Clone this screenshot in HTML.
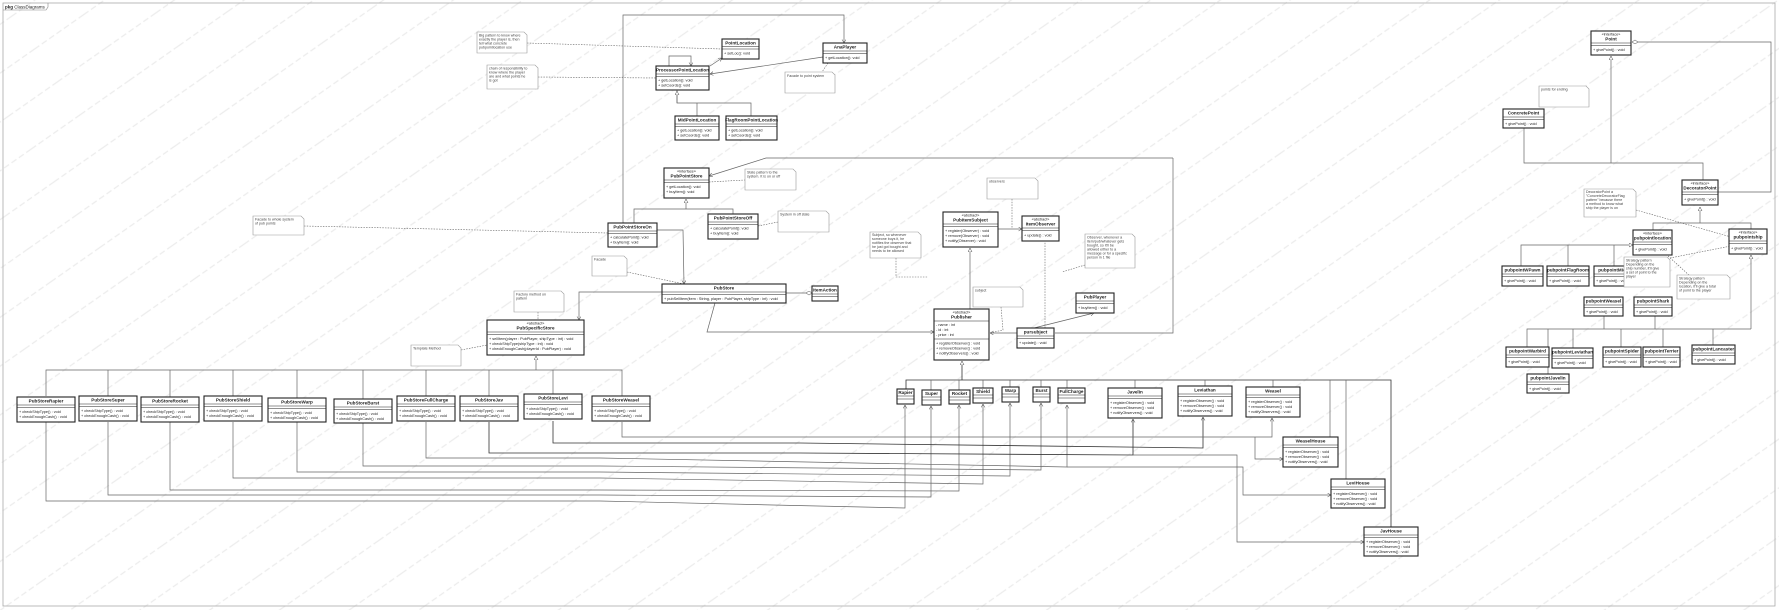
<!DOCTYPE html>
<html><head><meta charset="utf-8"><style>
html,body{margin:0;padding:0;background:#fff;}
svg{display:block;}
text{font-family:"Liberation Sans",sans-serif;fill:#222;}
.n{font-size:4.6px;font-weight:bold;text-anchor:middle;}
.s{font-size:3.8px;text-anchor:middle;}
.m{font-size:3.8px;}
.t{font-size:3.6px;fill:#444;}
.bx{fill:#fff;stroke:#222;stroke-width:1.1;}
.sep{stroke:#222;stroke-width:0.6;}
.ln{fill:none;stroke:#666;stroke-width:0.7;}
.dk{fill:none;stroke:#333;stroke-width:0.8;}
.ds{fill:none;stroke:#666;stroke-width:0.6;stroke-dasharray:1.5,1.2;}
.nt{fill:#fff;stroke:#999;stroke-width:0.6;}
</style></head><body>
<svg width="1779" height="610" viewBox="0 0 1779 610" xmlns="http://www.w3.org/2000/svg">
<defs>
<marker id="tri" markerWidth="5" markerHeight="5" refX="4" refY="2" orient="auto" markerUnits="userSpaceOnUse"><path d="M0,0 L4,2 L0,4 Z" fill="#fff" stroke="#444" stroke-width="0.5"/></marker>
<marker id="ar" markerWidth="5" markerHeight="5" refX="3.5" refY="2" orient="auto" markerUnits="userSpaceOnUse"><path d="M0,0 L3.5,2 L0,4" fill="none" stroke="#444" stroke-width="0.5"/></marker>
<marker id="dia" markerWidth="7" markerHeight="5" refX="6" refY="2" orient="auto" markerUnits="userSpaceOnUse"><path d="M0,2 L3,0 L6,2 L3,4 Z" fill="#fff" stroke="#444" stroke-width="0.5"/></marker>
<pattern id="wm" width="60" height="40" patternUnits="userSpaceOnUse" patternTransform="rotate(-35)">
<line x1="0" y1="20" x2="60" y2="20" stroke="#ececec" stroke-width="1.2" stroke-dasharray="6,3"/>
</pattern>
</defs>
<rect x="0" y="0" width="1779" height="610" fill="url(#wm)"/>
<!-- frame -->
<rect x="3" y="3" width="1772" height="603" fill="none" stroke="#aaa" stroke-width="0.8"/>
<path d="M3,10 L46,10 L48,7 L48,3" fill="none" stroke="#888" stroke-width="0.6"/>
<text x="5" y="8.5" style="font-size:4.5px"><tspan font-weight="bold">pkg</tspan> ClassDiagrams</text>

<!-- ============ CONNECTORS ============ -->
<path class="ln" d="M623,223 L623,15 L844,15 L844,43" marker-end="url(#ar)"/>
<path class="ln" d="M677,90 L677,103 L751,103 L751,116"/>
<path class="ln" d="M697,103 L697,116"/>
<path class="ln" d="M677,103 L677,91" marker-end="url(#tri)"/>
<path class="ln" d="M669,66 L669,56 L691,56 L691,66" marker-end="url(#ar)"/>
<path class="ln" d="M710,66 L722,58" marker-end="url(#ar)"/>
<path class="ln" d="M823,57 L710,74" marker-end="url(#ar)"/>
<path class="ds" d="M527,43 L722,49"/>
<path class="ds" d="M538,77 L656,78"/>
<path class="ds" d="M828,63 L822,72"/>
<path class="ln" d="M1173,158 L766,158 L709,176" marker-end="url(#ar)"/>
<path class="ln" d="M1173,158 L1173,333 L1055,333"/>
<path class="ln" d="M1017,333 L990,333" marker-end="url(#ar)"/>
<path class="ln" d="M634,223 L634,209 L733,209 L733,214"/>
<path class="ln" d="M686,209 L686,199" marker-end="url(#tri)"/>
<path class="ds" d="M709,182 L745,180"/>
<path class="ds" d="M758,226 L778,222"/>
<path class="ds" d="M304,226 L608,233"/>
<path class="ln" d="M657,230 L683,230 L684,284" marker-end="url(#ar)"/>
<path class="ds" d="M627,272 L684,284"/>
<path class="ln" d="M786,293 L812,293" marker-end="url(#dia)"/>
<path class="ln" d="M662,292 L579,292 L579,320" marker-end="url(#ar)"/>
<path class="ln" d="M715,303 L707,332 L934,332" marker-end="url(#ar)"/>
<path class="ds" d="M538,312 L538,320"/>
<path class="ds" d="M461,350 L487,345"/>
<path class="ln" d="M46,396 L46,370 L622,370 L622,397"/>
<path class="ln" d="M108,370 L108,397 M170,370 L170,397 M233,370 L233,397 M297,370 L297,398 M363,370 L363,399 M426,370 L426,397 M489,370 L489,397 M553,370 L553,396"/>
<path class="ln" d="M536,370 L536,356" marker-end="url(#tri)"/>
<path class="ln" d="M46,422 L46,501 L600,501 L905,508 L905,405" marker-end="url(#ar)"/>
<path class="ln" d="M108,422 L108,495 L600,495 L931,497 L931,406" marker-end="url(#ar)"/>
<path class="ln" d="M170,422 L170,490 L600,490 L959,491 L959,405" marker-end="url(#ar)"/>
<path class="ln" d="M233,422 L233,478 L600,478 L983,484 L983,404" marker-end="url(#ar)"/>
<path class="ln" d="M297,422 L297,472 L600,472 L1010,476 L1010,403" marker-end="url(#ar)"/>
<path class="ln" d="M363,423 L363,466 L600,466 L1041,470 L1041,403" marker-end="url(#ar)"/>
<path class="ln" d="M426,422 L426,458 L600,458 L1067,467 L1067,405" marker-end="url(#ar)"/>
<path class="dk" d="M489,422 L489,453 L800,453 L1133,455 L1133,419" marker-end="url(#ar)"/>
<path class="dk" d="M553,421 L553,443 L800,443 L1203,448 L1203,417" marker-end="url(#ar)"/>
<path class="ln" d="M622,422 L622,437 L1272,437 L1272,418" marker-end="url(#ar)"/>
<path class="ln" d="M1255,437 L1255,459 L1283,459" marker-end="url(#ar)"/>
<path class="ln" d="M1133,455 L1237,455 L1237,542 L1364,542" marker-end="url(#ar)"/>
<path class="ln" d="M1067,467 L1243,467 L1243,495 L1331,495" marker-end="url(#ar)"/>
<path class="dk" d="M906,389 L906,380 L1391,380 L1391,527"/>
<path class="ln" d="M931,380 L931,390 M959,380 L959,390 M983,380 L983,388 M1010,380 L1010,387 M1041,380 L1041,387 M1067,380 L1067,388 M1135,380 L1135,388 M1205,380 L1205,386 M1273,380 L1273,387 M1330,380 L1330,437 M1346,380 L1346,479"/>
<path class="dk" d="M962,380 L962,361" marker-end="url(#tri)"/>
<path class="ln" d="M970,309 L970,248" marker-end="url(#tri)"/>
<path class="ln" d="M998,229 L1022,229" marker-end="url(#ar)"/>
<path class="ds" d="M1012,199 L1012,228"/>
<path class="ds" d="M1045,328 L1045,242"/>
<path class="ds" d="M1001,307 L1003,330 L990,333"/>
<path class="ds" d="M896,258 L896,277 L928,277"/>
<path class="ln" d="M1034,328 L1094,313" marker-end="url(#ar)"/>
<path class="ds" d="M1085,265 L1062,272"/>
<path class="ln" d="M1524,128 L1524,163 L1703,163 L1703,180"/>
<path class="ln" d="M1611,163 L1611,56" marker-end="url(#tri)"/>
<path class="ln" d="M1718,192 L1771,192 L1771,42 L1632,42" marker-end="url(#dia)"/>
<path class="ln" d="M1653,230 L1653,223 L1751,223 L1751,229"/>
<path class="ln" d="M1700,223 L1700,207" marker-end="url(#tri)"/>
<path class="ds" d="M1636,210 L1731,237"/>
<path class="ln" d="M1521,266 L1521,245 L1633,245" marker-end="url(#tri)"/>
<path class="ln" d="M1568,245 L1568,266 M1614,245 L1614,266"/>
<path class="ds" d="M1670,258 L1731,246"/>
<path class="ds" d="M1668,256 L1690,276"/>
<path class="ln" d="M1527,347 L1527,329 L1751,329"/>
<path class="ln" d="M1751,329 L1751,255" marker-end="url(#tri)"/>
<path class="ln" d="M1548,329 L1548,374 M1573,329 L1573,348 M1621,329 L1621,347 M1663,329 L1663,347 M1713,329 L1713,345 M1604,316 L1604,329 M1655,316 L1655,329"/>

<!-- ============ NOTES ============ -->
<g>
<path class="nt" d="M477,32 L524,32 L527,35 L527,53 L477,53 Z"/>
<text class="t" x="479" y="36.5">Big pattern to know where</text><text class="t" x="479" y="40.5">exactly the player is, then</text><text class="t" x="479" y="44.5">tell what concrete</text><text class="t" x="479" y="48.5">pubpointlocation use</text>
<path class="nt" d="M487,65 L535,65 L538,68 L538,89 L487,89 Z"/>
<text class="t" x="489" y="69.5">chain of responsibility to</text><text class="t" x="489" y="73.5">know where the player</text><text class="t" x="489" y="77.5">are and what points he</text><text class="t" x="489" y="81.5">is got</text>
<path class="nt" d="M785,72 L832,72 L835,75 L835,93 L785,93 Z"/>
<text class="t" x="787" y="77">Facade to point system</text>
<path class="nt" d="M745,169 L793,169 L796,172 L796,190 L745,190 Z"/>
<text class="t" x="747" y="173.5">State pattern to the</text><text class="t" x="747" y="177.5">system. It is on or off</text>
<path class="nt" d="M778,211 L826,211 L829,214 L829,232 L778,232 Z"/>
<text class="t" x="780" y="215.5">System in off state</text>
<path class="nt" d="M253,216 L301,216 L304,219 L304,235 L253,235 Z"/>
<text class="t" x="255" y="220.5">Facade to whole system</text><text class="t" x="255" y="224.5">of pub points</text>
<path class="nt" d="M592,256 L624,256 L627,259 L627,276 L592,276 Z"/>
<text class="t" x="594" y="260.5">Facade</text>
<path class="nt" d="M514,291 L561,291 L564,294 L564,312 L514,312 Z"/>
<text class="t" x="516" y="295.5">Factory method on</text><text class="t" x="516" y="299.5">pattern</text>
<path class="nt" d="M411,345 L458,345 L461,348 L461,366 L411,366 Z"/>
<text class="t" x="413" y="349.5">Template Method</text>
<path class="nt" d="M987,178 L1035,178 L1038,181 L1038,199 L987,199 Z"/>
<text class="t" x="989" y="182.5">observers</text>
<path class="nt" d="M870,232 L918,232 L921,235 L921,258 L870,258 Z"/>
<text class="t" x="872" y="236">Subject, so whenever</text><text class="t" x="872" y="240">someone buys it, he</text><text class="t" x="872" y="244">notifies the observer that</text><text class="t" x="872" y="248">he just got bought and</text><text class="t" x="872" y="252">needs to be allowed</text>
<path class="nt" d="M1085,234 L1132,234 L1135,237 L1135,268 L1085,268 Z"/>
<text class="t" x="1087" y="238.5">Observer, whenever a</text><text class="t" x="1087" y="242.5">item/pub/whatever gets</text><text class="t" x="1087" y="246.5">bought, so it'll be</text><text class="t" x="1087" y="250.5">allowed either to a</text><text class="t" x="1087" y="254.5">message or for a specific</text><text class="t" x="1087" y="258.5">person in 1 file</text>
<path class="nt" d="M973,287 L1020,287 L1023,290 L1023,307 L973,307 Z"/>
<text class="t" x="975" y="291.5">subject</text>
<path class="nt" d="M1539,86 L1586,86 L1589,89 L1589,107 L1539,107 Z"/>
<text class="t" x="1541" y="90.5">points for ending</text>
<path class="nt" d="M1584,189 L1633,189 L1636,192 L1636,217 L1584,217 Z"/>
<text class="t" x="1586" y="193">DecoratorPoint a</text><text class="t" x="1586" y="197">"ConcreteDecoratorFlag</text><text class="t" x="1586" y="201">pattern" because there</text><text class="t" x="1586" y="205">a method to know what</text><text class="t" x="1586" y="209">ship the player is on</text>
<path class="nt" d="M1677,275 L1727,275 L1730,278 L1730,299 L1677,299 Z"/>
<text class="t" x="1679" y="279.5">Strategy pattern</text><text class="t" x="1679" y="283.5">Depending on the</text><text class="t" x="1679" y="287.5">location, it'll give a total</text><text class="t" x="1679" y="291.5">of point to the player</text>
</g>

<!-- ============ CLASS BOXES ============ -->
<g>
<rect class="bx" x="722" y="39" width="37" height="20"/><text class="n" x="740.5" y="44.5">PointLocation</text><line class="sep" x1="722" y1="46.5" x2="759" y2="46.5"/><line class="sep" x1="722" y1="49" x2="759" y2="49"/><text class="m" x="724" y="54.5">+ setLoc(): void</text>
<rect class="bx" x="823" y="43" width="44" height="20"/><text class="n" x="845" y="48.5">AnaPlayer</text><line class="sep" x1="823" y1="51" x2="867" y2="51"/><line class="sep" x1="823" y1="53.5" x2="867" y2="53.5"/><text class="m" x="825" y="59">+ getLocation(): void</text>
<rect class="bx" x="656" y="66" width="53" height="24" stroke-width="1.5"/><text class="n" x="682.5" y="71.5">ProcessorPointLocation</text><line class="sep" x1="656" y1="74" x2="709" y2="74"/><line class="sep" x1="656" y1="76.5" x2="709" y2="76.5"/><text class="m" x="658" y="81.5">+ getLocation(): void</text><text class="m" x="658" y="86.5">+ setCoords(): void</text>
<rect class="bx" x="675" y="116" width="44" height="24"/><text class="n" x="697" y="121.5">MidPointLocation</text><line class="sep" x1="675" y1="124" x2="719" y2="124"/><line class="sep" x1="675" y1="126.5" x2="719" y2="126.5"/><text class="m" x="677" y="131.5">+ getLocation(): void</text><text class="m" x="677" y="136.5">+ setCoords(): void</text>
<rect class="bx" x="726" y="116" width="51" height="24"/><text class="n" x="751.5" y="121.5">FlagRoomPointLocation</text><line class="sep" x1="726" y1="124" x2="777" y2="124"/><line class="sep" x1="726" y1="126.5" x2="777" y2="126.5"/><text class="m" x="728" y="131.5">+ getLocation(): void</text><text class="m" x="728" y="136.5">+ setCoords(): void</text>
</g>
<g>
<rect class="bx" x="664" y="168" width="45" height="30"/><text class="s" x="686.5" y="172.5">«interface»</text><text class="n" x="686.5" y="177.5">PubPointStore</text><line class="sep" x1="664" y1="180" x2="709" y2="180"/><line class="sep" x1="664" y1="182.5" x2="709" y2="182.5"/><text class="m" x="666" y="188">+ getLocation(): void</text><text class="m" x="666" y="193">+ buyItem(): void</text>
<rect class="bx" x="608" y="223" width="49" height="24" stroke-width="1.5"/><text class="n" x="632.5" y="228.5">PubPointStoreOn</text><line class="sep" x1="608" y1="231" x2="657" y2="231"/><line class="sep" x1="608" y1="233.5" x2="657" y2="233.5"/><text class="m" x="610" y="238.5">+ calculatePoint(): void</text><text class="m" x="610" y="243.5">+ buyItem(): void</text>
<rect class="bx" x="708" y="214" width="50" height="25" stroke-width="1.5"/><text class="n" x="733" y="219.5">PubPointStoreOff</text><line class="sep" x1="708" y1="222" x2="758" y2="222"/><line class="sep" x1="708" y1="224.5" x2="758" y2="224.5"/><text class="m" x="710" y="229.5">+ calculatePoint(): void</text><text class="m" x="710" y="234.5">+ buyItem(): void</text>
<rect class="bx" x="662" y="284" width="124" height="19" stroke-width="1.5"/><text class="n" x="724" y="289.5">PubStore</text><line class="sep" x1="662" y1="292" x2="786" y2="292"/><line class="sep" x1="662" y1="294.5" x2="786" y2="294.5"/><text class="m" x="664" y="300">+ pubSellItem(item : String, player : PubPlayer, shipType : int) : void</text>
<rect class="bx" x="812" y="286" width="26" height="15" stroke-width="1.5"/><text class="n" x="825" y="291.5">ItemAction</text><line class="sep" x1="812" y1="294" x2="838" y2="294"/><line class="sep" x1="812" y1="296.5" x2="838" y2="296.5"/>
<rect class="bx" x="487" y="320" width="97" height="35" stroke-width="1.5"/><text class="s" x="535.5" y="324.5">«abstract»</text><text class="n" x="535.5" y="329.5">PubSpecificStore</text><line class="sep" x1="487" y1="332" x2="584" y2="332"/><line class="sep" x1="487" y1="334.5" x2="584" y2="334.5"/><text class="m" x="489" y="340">+ sellItem(player : PubPlayer, shipType : int) : void</text><text class="m" x="489" y="345">+ checkShipType(shipType : int) : void</text><text class="m" x="489" y="350">+ checkEnoughCash(playerId : PubPlayer) : void</text>
</g>
<g>
<rect class="bx" x="17" y="397" width="58" height="25" stroke-width="1.4"/><text class="n" x="46" y="402.5">PubStoreRapier</text><line class="sep" x1="17" y1="405" x2="75" y2="405"/><line class="sep" x1="17" y1="407.5" x2="75" y2="407.5"/><text class="m" x="19" y="413">+ checkShipType() : void</text><text class="m" x="19" y="418">+ checkEnoughCash() : void</text>
<rect class="bx" x="79" y="396" width="58" height="25" stroke-width="1.4"/><text class="n" x="108" y="401.5">PubStoreSuper</text><line class="sep" x1="79" y1="404" x2="137" y2="404"/><line class="sep" x1="79" y1="406.5" x2="137" y2="406.5"/><text class="m" x="81" y="412">+ checkShipType() : void</text><text class="m" x="81" y="417">+ checkEnoughCash() : void</text>
<rect class="bx" x="141" y="397" width="58" height="25" stroke-width="1.4"/><text class="n" x="170" y="402.5">PubStoreRocket</text><line class="sep" x1="141" y1="405" x2="199" y2="405"/><line class="sep" x1="141" y1="407.5" x2="199" y2="407.5"/><text class="m" x="143" y="413">+ checkShipType() : void</text><text class="m" x="143" y="418">+ checkEnoughCash() : void</text>
<rect class="bx" x="204" y="396" width="58" height="25" stroke-width="1.4"/><text class="n" x="233" y="401.5">PubStoreShield</text><line class="sep" x1="204" y1="404" x2="262" y2="404"/><line class="sep" x1="204" y1="406.5" x2="262" y2="406.5"/><text class="m" x="206" y="412">+ checkShipType() : void</text><text class="m" x="206" y="417">+ checkEnoughCash() : void</text>
<rect class="bx" x="268" y="398" width="58" height="24" stroke-width="1.4"/><text class="n" x="297" y="403.5">PubStoreWarp</text><line class="sep" x1="268" y1="406" x2="326" y2="406"/><line class="sep" x1="268" y1="408.5" x2="326" y2="408.5"/><text class="m" x="270" y="414">+ checkShipType() : void</text><text class="m" x="270" y="419">+ checkEnoughCash() : void</text>
<rect class="bx" x="334" y="399" width="58" height="24" stroke-width="1.4"/><text class="n" x="363" y="404.5">PubStoreBurst</text><line class="sep" x1="334" y1="407" x2="392" y2="407"/><line class="sep" x1="334" y1="409.5" x2="392" y2="409.5"/><text class="m" x="336" y="415">+ checkShipType() : void</text><text class="m" x="336" y="420">+ checkEnoughCash() : void</text>
<rect class="bx" x="397" y="396" width="58" height="25" stroke-width="1.4"/><text class="n" x="426" y="401.5">PubStoreFullCharge</text><line class="sep" x1="397" y1="404" x2="455" y2="404"/><line class="sep" x1="397" y1="406.5" x2="455" y2="406.5"/><text class="m" x="399" y="412">+ checkShipType() : void</text><text class="m" x="399" y="417">+ checkEnoughCash() : void</text>
<rect class="bx" x="460" y="396" width="58" height="25" stroke-width="1.4"/><text class="n" x="489" y="401.5">PubStoreJav</text><line class="sep" x1="460" y1="404" x2="518" y2="404"/><line class="sep" x1="460" y1="406.5" x2="518" y2="406.5"/><text class="m" x="462" y="412">+ checkShipType() : void</text><text class="m" x="462" y="417">+ checkEnoughCash() : void</text>
<rect class="bx" x="524" y="394" width="58" height="25" stroke-width="1.4"/><text class="n" x="553" y="399.5">PubStoreLevi</text><line class="sep" x1="524" y1="402" x2="582" y2="402"/><line class="sep" x1="524" y1="404.5" x2="582" y2="404.5"/><text class="m" x="526" y="410">+ checkShipType() : void</text><text class="m" x="526" y="415">+ checkEnoughCash() : void</text>
<rect class="bx" x="592" y="396" width="58" height="25" stroke-width="1.4"/><text class="n" x="621" y="401.5">PubStoreWeasel</text><line class="sep" x1="592" y1="404" x2="650" y2="404"/><line class="sep" x1="592" y1="406.5" x2="650" y2="406.5"/><text class="m" x="594" y="412">+ checkShipType() : void</text><text class="m" x="594" y="417">+ checkEnoughCash() : void</text>
</g>
<g>
<rect class="bx" x="943" y="212" width="55" height="35" stroke-width="1.4"/><text class="s" x="970.5" y="216.5">«abstract»</text><text class="n" x="970.5" y="221.5">PubItemSubject</text><line class="sep" x1="943" y1="224" x2="998" y2="224"/><line class="sep" x1="943" y1="226.5" x2="998" y2="226.5"/><text class="m" x="945" y="232">+ register(Observer) : void</text><text class="m" x="945" y="237">+ remove(Observer) : void</text><text class="m" x="945" y="242">+ notify(Observer) : void</text>
<rect class="bx" x="1022" y="216" width="37" height="25" stroke-width="1.2"/><text class="s" x="1040.5" y="220.5">«abstract»</text><text class="n" x="1040.5" y="225.5">ItemObserver</text><line class="sep" x1="1022" y1="228" x2="1059" y2="228"/><line class="sep" x1="1022" y1="230.5" x2="1059" y2="230.5"/><text class="m" x="1024" y="236.5">+ update() : void</text>
<rect class="bx" x="1076" y="293" width="38" height="20" stroke-width="1.2"/><text class="n" x="1095" y="298.5">PubPlayer</text><line class="sep" x1="1076" y1="301" x2="1114" y2="301"/><line class="sep" x1="1076" y1="303.5" x2="1114" y2="303.5"/><text class="m" x="1078" y="309">+ buyItem() : void</text>
<rect class="bx" x="934" y="309" width="55" height="51" stroke-width="1.4"/><text class="s" x="961.5" y="313.5">«abstract»</text><text class="n" x="961.5" y="318.5">Publisher</text><line class="sep" x1="934" y1="321" x2="989" y2="321"/><text class="m" x="936" y="326">- name : int</text><text class="m" x="936" y="331">- id : int</text><text class="m" x="936" y="336">- price : int</text><line class="sep" x1="934" y1="339" x2="989" y2="339"/><text class="m" x="936" y="344.5">+ registerObserver() : void</text><text class="m" x="936" y="349.5">+ removeObserver() : void</text><text class="m" x="936" y="354.5">+ notifyObservers() : void</text>
<rect class="bx" x="1017" y="328" width="37" height="20" stroke-width="1.5"/><text class="n" x="1035.5" y="333.5">pursubject</text><line class="sep" x1="1017" y1="336" x2="1054" y2="336"/><line class="sep" x1="1017" y1="338.5" x2="1054" y2="338.5"/><text class="m" x="1019" y="344">+ update() : void</text>
</g>
<g>
<rect class="bx" x="897" y="389" width="17" height="15"/><text class="n" x="905.5" y="394">Rapier</text><line class="sep" x1="897" y1="396" x2="914" y2="396"/><line class="sep" x1="897" y1="399" x2="914" y2="399"/>
<rect class="bx" x="922" y="390" width="19" height="15"/><text class="n" x="931.5" y="395">Super</text><line class="sep" x1="922" y1="397" x2="941" y2="397"/><line class="sep" x1="922" y1="400" x2="941" y2="400"/>
<rect class="bx" x="949" y="390" width="21" height="14"/><text class="n" x="959.5" y="395">Rocket</text><line class="sep" x1="949" y1="397" x2="970" y2="397"/><line class="sep" x1="949" y1="400" x2="970" y2="400"/>
<rect class="bx" x="973" y="388" width="20" height="15"/><text class="n" x="983" y="393">Shield</text><line class="sep" x1="973" y1="395" x2="993" y2="395"/><line class="sep" x1="973" y1="398" x2="993" y2="398"/>
<rect class="bx" x="1002" y="387" width="17" height="15"/><text class="n" x="1010.5" y="392">Warp</text><line class="sep" x1="1002" y1="394" x2="1019" y2="394"/><line class="sep" x1="1002" y1="397" x2="1019" y2="397"/>
<rect class="bx" x="1033" y="387" width="17" height="15"/><text class="n" x="1041.5" y="392">Burst</text><line class="sep" x1="1033" y1="394" x2="1050" y2="394"/><line class="sep" x1="1033" y1="397" x2="1050" y2="397"/>
<rect class="bx" x="1058" y="388" width="27" height="15"/><text class="n" x="1071.5" y="393">FullCharge</text><line class="sep" x1="1058" y1="395" x2="1085" y2="395"/><line class="sep" x1="1058" y1="398" x2="1085" y2="398"/>
<rect class="bx" x="1108" y="388" width="54" height="30"/><text class="n" x="1135" y="393.5">Javelin</text><line class="sep" x1="1108" y1="396" x2="1162" y2="396"/><line class="sep" x1="1108" y1="398.5" x2="1162" y2="398.5"/><text class="m" x="1110" y="404">+ registerObserver() : void</text><text class="m" x="1110" y="409">+ removeObserver() : void</text><text class="m" x="1110" y="414">+ notifyObservers() : void</text>
<rect class="bx" x="1178" y="386" width="54" height="30"/><text class="n" x="1205" y="391.5">Leviathan</text><line class="sep" x1="1178" y1="394" x2="1232" y2="394"/><line class="sep" x1="1178" y1="396.5" x2="1232" y2="396.5"/><text class="m" x="1180" y="402">+ registerObserver() : void</text><text class="m" x="1180" y="407">+ removeObserver() : void</text><text class="m" x="1180" y="412">+ notifyObservers() : void</text>
<rect class="bx" x="1246" y="387" width="54" height="30"/><text class="n" x="1273" y="392.5">Weasel</text><line class="sep" x1="1246" y1="395" x2="1300" y2="395"/><line class="sep" x1="1246" y1="397.5" x2="1300" y2="397.5"/><text class="m" x="1248" y="403">+ registerObserver() : void</text><text class="m" x="1248" y="408">+ removeObserver() : void</text><text class="m" x="1248" y="413">+ notifyObservers() : void</text>
<rect class="bx" x="1283" y="437" width="55" height="30"/><text class="n" x="1310.5" y="442.5">WeaselHouse</text><line class="sep" x1="1283" y1="445" x2="1338" y2="445"/><line class="sep" x1="1283" y1="447.5" x2="1338" y2="447.5"/><text class="m" x="1285" y="453">+ registerObserver() : void</text><text class="m" x="1285" y="458">+ removeObserver() : void</text><text class="m" x="1285" y="463">+ notifyObservers() : void</text>
<rect class="bx" x="1331" y="479" width="54" height="29"/><text class="n" x="1358" y="484.5">LeviHouse</text><line class="sep" x1="1331" y1="487" x2="1385" y2="487"/><line class="sep" x1="1331" y1="489.5" x2="1385" y2="489.5"/><text class="m" x="1333" y="495">+ registerObserver() : void</text><text class="m" x="1333" y="500">+ removeObserver() : void</text><text class="m" x="1333" y="505">+ notifyObservers() : void</text>
<rect class="bx" x="1364" y="527" width="54" height="29"/><text class="n" x="1391" y="532.5">JavHouse</text><line class="sep" x1="1364" y1="535" x2="1418" y2="535"/><line class="sep" x1="1364" y1="537.5" x2="1418" y2="537.5"/><text class="m" x="1366" y="543">+ registerObserver() : void</text><text class="m" x="1366" y="548">+ removeObserver() : void</text><text class="m" x="1366" y="553">+ notifyObservers() : void</text>
</g>
<g>
<rect class="bx" x="1591" y="31" width="40" height="24" stroke-width="1.4"/><text class="s" x="1611" y="35.5">«interface»</text><text class="n" x="1611" y="40.5">Point</text><line class="sep" x1="1591" y1="43" x2="1631" y2="43"/><line class="sep" x1="1591" y1="45.5" x2="1631" y2="45.5"/><text class="m" x="1593" y="51">+ givePoint() : void</text>
<rect class="bx" x="1503" y="109" width="41" height="19" stroke-width="1.4"/><text class="n" x="1523.5" y="114.5">ConcretePoint</text><line class="sep" x1="1503" y1="117" x2="1544" y2="117"/><line class="sep" x1="1503" y1="119.5" x2="1544" y2="119.5"/><text class="m" x="1505" y="125">+ givePoint() : void</text>
<rect class="bx" x="1682" y="180" width="36" height="25" stroke-width="1.4"/><text class="s" x="1700" y="184.5">«interface»</text><text class="n" x="1700" y="189.5">DecoratorPoint</text><line class="sep" x1="1682" y1="192" x2="1718" y2="192"/><line class="sep" x1="1682" y1="194.5" x2="1718" y2="194.5"/><text class="m" x="1684" y="200.5">+ givePoint() : void</text>
<rect class="bx" x="1633" y="230" width="39" height="25" stroke-width="1.4"/><text class="s" x="1652.5" y="234.5">«interface»</text><text class="n" x="1652.5" y="239.5">pubpointlocation</text><line class="sep" x1="1633" y1="242" x2="1672" y2="242"/><line class="sep" x1="1633" y1="244.5" x2="1672" y2="244.5"/><text class="m" x="1635" y="250.5">+ givePoint() : void</text>
<rect class="bx" x="1729" y="229" width="38" height="25" stroke-width="1.4"/><text class="s" x="1748" y="233.5">«interface»</text><text class="n" x="1748" y="238.5">pubpointship</text><line class="sep" x1="1729" y1="241" x2="1767" y2="241"/><line class="sep" x1="1729" y1="243.5" x2="1767" y2="243.5"/><text class="m" x="1731" y="249.5">+ givePoint() : void</text>
<rect class="bx" x="1502" y="266" width="41" height="20" stroke-width="1.4"/><text class="n" x="1522.5" y="271.5">pubpointWPawn</text><line class="sep" x1="1502" y1="274" x2="1543" y2="274"/><line class="sep" x1="1502" y1="276.5" x2="1543" y2="276.5"/><text class="m" x="1504" y="282">+ givePoint() : void</text>
<rect class="bx" x="1547" y="266" width="42" height="20" stroke-width="1.4"/><text class="n" x="1568" y="271.5">pubpointFlagRoom</text><line class="sep" x1="1547" y1="274" x2="1589" y2="274"/><line class="sep" x1="1547" y1="276.5" x2="1589" y2="276.5"/><text class="m" x="1549" y="282">+ givePoint() : void</text>
<rect class="bx" x="1594" y="266" width="36" height="20" stroke-width="1.4"/><text class="n" x="1612" y="271.5">pubpointMid</text><line class="sep" x1="1594" y1="274" x2="1630" y2="274"/><line class="sep" x1="1594" y1="276.5" x2="1630" y2="276.5"/><text class="m" x="1596" y="282">+ givePoint() : void</text>
<path class="nt" d="M1624,257 L1667,257 L1670,260 L1670,287 L1624,287 Z"/>
<text class="t" x="1626" y="261.5">Strategy pattern</text><text class="t" x="1626" y="265.5">Depending on the</text><text class="t" x="1626" y="269.5">ship number, it'll give</text><text class="t" x="1626" y="273.5">a set of point to the</text><text class="t" x="1626" y="277.5">player</text>
<rect class="bx" x="1584" y="297" width="39" height="19" stroke-width="1.4"/><text class="n" x="1603.5" y="302.5">pubpointWeasel</text><line class="sep" x1="1584" y1="305" x2="1623" y2="305"/><line class="sep" x1="1584" y1="307.5" x2="1623" y2="307.5"/><text class="m" x="1586" y="313">+ givePoint() : void</text>
<rect class="bx" x="1634" y="297" width="38" height="19" stroke-width="1.4"/><text class="n" x="1653" y="302.5">pubpointShark</text><line class="sep" x1="1634" y1="305" x2="1672" y2="305"/><line class="sep" x1="1634" y1="307.5" x2="1672" y2="307.5"/><text class="m" x="1636" y="313">+ givePoint() : void</text>
<rect class="bx" x="1506" y="347" width="43" height="20" stroke-width="1.4"/><text class="n" x="1527.5" y="352.5">pubpointWarbird</text><line class="sep" x1="1506" y1="355" x2="1549" y2="355"/><line class="sep" x1="1506" y1="357.5" x2="1549" y2="357.5"/><text class="m" x="1508" y="363">+ givePoint() : void</text>
<rect class="bx" x="1552" y="348" width="41" height="20" stroke-width="1.4"/><text class="n" x="1572.5" y="353.5">pubpointLeviathan</text><line class="sep" x1="1552" y1="356" x2="1593" y2="356"/><line class="sep" x1="1552" y1="358.5" x2="1593" y2="358.5"/><text class="m" x="1554" y="364">+ givePoint() : void</text>
<rect class="bx" x="1603" y="347" width="38" height="20" stroke-width="1.4"/><text class="n" x="1622" y="352.5">pubpointSpider</text><line class="sep" x1="1603" y1="355" x2="1641" y2="355"/><line class="sep" x1="1603" y1="357.5" x2="1641" y2="357.5"/><text class="m" x="1605" y="363">+ givePoint() : void</text>
<rect class="bx" x="1643" y="347" width="37" height="20" stroke-width="1.4"/><text class="n" x="1661.5" y="352.5">pubpointTerrier</text><line class="sep" x1="1643" y1="355" x2="1680" y2="355"/><line class="sep" x1="1643" y1="357.5" x2="1680" y2="357.5"/><text class="m" x="1645" y="363">+ givePoint() : void</text>
<rect class="bx" x="1692" y="345" width="43" height="19" stroke-width="1.4"/><text class="n" x="1713.5" y="350.5">pubpointLancaster</text><line class="sep" x1="1692" y1="353" x2="1735" y2="353"/><line class="sep" x1="1692" y1="355.5" x2="1735" y2="355.5"/><text class="m" x="1694" y="361">+ givePoint() : void</text>
<rect class="bx" x="1527" y="374" width="42" height="19" stroke-width="1.4"/><text class="n" x="1548" y="379.5">pubpointJavelin</text><line class="sep" x1="1527" y1="382" x2="1569" y2="382"/><line class="sep" x1="1527" y1="384.5" x2="1569" y2="384.5"/><text class="m" x="1529" y="390">+ givePoint() : void</text>
</g>
</svg>
</body></html>
